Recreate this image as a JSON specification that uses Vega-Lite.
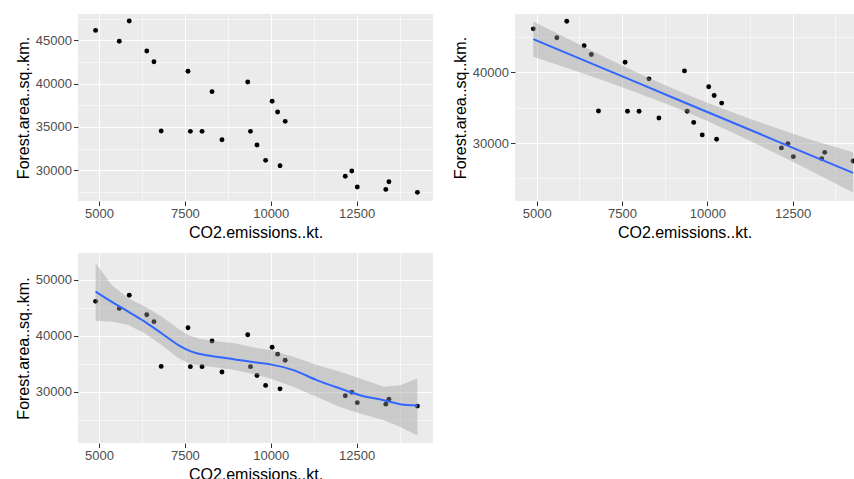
{
  "$schema": "https://vega.github.io/schema/vega-lite/v6.json",
  "background": "white",
  "padding": {"left": 15, "top": 12, "right": 0, "bottom": 0},
  "config": {
    "view": {"fill": "#EBEBEB", "stroke": null},
    "axis": {
      "domain": false,
      "tickColor": "#333333",
      "tickSize": 4.5,
      "tickWidth": 1,
      "labelColor": "#4D4D4D",
      "labelFont": "Liberation Sans",
      "labelFontSize": 13,
      "titleFont": "Liberation Sans",
      "titleFontSize": 16,
      "titleFontWeight": "normal",
      "titleColor": "#000000",
      "gridColor": "#FFFFFF",
      "labelOverlap": false,
      "labelPadding": 2,
      "titlePadding": 4
    }
  },
  "datasets": {
    "pts": [
      {"x": 4900, "y": 46150}, {"x": 5590, "y": 44890}, {"x": 5880, "y": 47230},
      {"x": 6390, "y": 43770}, {"x": 6600, "y": 42530}, {"x": 6810, "y": 34540},
      {"x": 7590, "y": 41430}, {"x": 7660, "y": 34500}, {"x": 8000, "y": 34500},
      {"x": 8290, "y": 39080}, {"x": 8580, "y": 33530}, {"x": 9330, "y": 40200},
      {"x": 9410, "y": 34500}, {"x": 9600, "y": 32920}, {"x": 9850, "y": 31150},
      {"x": 10040, "y": 37970}, {"x": 10200, "y": 36730}, {"x": 10420, "y": 35650},
      {"x": 10270, "y": 30530}, {"x": 12170, "y": 29310}, {"x": 12360, "y": 29920},
      {"x": 12520, "y": 28070}, {"x": 13350, "y": 27800}, {"x": 13440, "y": 28680},
      {"x": 14270, "y": 27460}
    ],
    "lin": [
      {"x": 4900, "fit": 44690, "lo": 42200, "hi": 47180},
      {"x": 6000, "fit": 42470, "lo": 40430, "hi": 44520},
      {"x": 7000, "fit": 40450, "lo": 38760, "hi": 42140},
      {"x": 8000, "fit": 38430, "lo": 37020, "hi": 39840},
      {"x": 9000, "fit": 36410, "lo": 35150, "hi": 37670},
      {"x": 10000, "fit": 34390, "lo": 33100, "hi": 35680},
      {"x": 11000, "fit": 32370, "lo": 30890, "hi": 33860},
      {"x": 12000, "fit": 30350, "lo": 28560, "hi": 32150},
      {"x": 13000, "fit": 28330, "lo": 26160, "hi": 30500},
      {"x": 14270, "fit": 25770, "lo": 23000, "hi": 28700}
    ],
    "loess": [
      {"x": 4900, "fit": 47900, "lo": 42700, "hi": 53000},
      {"x": 5360, "fit": 46120, "lo": 42540, "hi": 49110},
      {"x": 5850, "fit": 44330, "lo": 41940, "hi": 46720},
      {"x": 6330, "fit": 42540, "lo": 40450, "hi": 45230},
      {"x": 6820, "fit": 40450, "lo": 38360, "hi": 43440},
      {"x": 7300, "fit": 38400, "lo": 36100, "hi": 41300},
      {"x": 7590, "fit": 37450, "lo": 35150, "hi": 40150},
      {"x": 7900, "fit": 36800, "lo": 34750, "hi": 39500},
      {"x": 8270, "fit": 36390, "lo": 34480, "hi": 39140},
      {"x": 8950, "fit": 35790, "lo": 33880, "hi": 38660},
      {"x": 9630, "fit": 35190, "lo": 32980, "hi": 37760},
      {"x": 9980, "fit": 34900, "lo": 32390, "hi": 37460},
      {"x": 10660, "fit": 33880, "lo": 30890, "hi": 36270},
      {"x": 11340, "fit": 32090, "lo": 29100, "hi": 34780},
      {"x": 12020, "fit": 30590, "lo": 27310, "hi": 33580},
      {"x": 12600, "fit": 29400, "lo": 26120, "hi": 32390},
      {"x": 13290, "fit": 28500, "lo": 24920, "hi": 30890},
      {"x": 13770, "fit": 27790, "lo": 23730, "hi": 31190},
      {"x": 14270, "fit": 27550, "lo": 22230, "hi": 32390}
    ]
  },
  "spacing": 12,
  "vconcat": [
    {
      "spacing": 19,
      "hconcat": [
        {
          "width": 355,
          "height": 187,
          "data": {"name": "pts"},
          "mark": {"type": "circle", "size": 24, "opacity": 1, "color": "#000000"},
          "encoding": {
            "x": {
              "field": "x", "type": "quantitative",
              "scale": {"domain": [4388, 14724], "nice": false, "zero": false},
              "axis": {
                "title": "CO2.emissions..kt.",
                "values": [5000, 6250, 7500, 8750, 10000, 11250, 12500, 13750],
                "labelExpr": "datum.value % 2500 == 0 ? format(datum.value, 'd') : ''",
                "gridWidth": {"condition": {"test": "datum.value % 2500 == 0", "value": 1.1}, "value": 0.55},
                "tickOpacity": {"condition": {"test": "datum.value % 2500 == 0", "value": 1}, "value": 0}
              }
            },
            "y": {
              "field": "y", "type": "quantitative",
              "scale": {"domain": [26460, 48040], "nice": false, "zero": false},
              "axis": {
                "title": "Forest.area..sq..km.",
                "values": [27500, 30000, 32500, 35000, 37500, 40000, 42500, 45000, 47500],
                "labelExpr": "datum.value % 5000 == 0 ? format(datum.value, 'd') : ''",
                "gridWidth": {"condition": {"test": "datum.value % 5000 == 0", "value": 1.1}, "value": 0.55},
                "tickOpacity": {"condition": {"test": "datum.value % 5000 == 0", "value": 1}, "value": 0}
              }
            }
          }
        },
        {
          "width": 339,
          "height": 187,
          "encoding": {
            "x": {
              "field": "x", "type": "quantitative",
              "scale": {"domain": [4364, 14297], "nice": false, "zero": false},
              "axis": {
                "title": "CO2.emissions..kt.",
                "values": [5000, 6250, 7500, 8750, 10000, 11250, 12500, 13750],
                "labelExpr": "datum.value % 2500 == 0 ? format(datum.value, 'd') : ''",
                "gridWidth": {"condition": {"test": "datum.value % 2500 == 0", "value": 1.1}, "value": 0.55},
                "tickOpacity": {"condition": {"test": "datum.value % 2500 == 0", "value": 1}, "value": 0}
              }
            }
          },
          "layer": [
            {
              "data": {"name": "pts"},
              "mark": {"type": "circle", "size": 24, "opacity": 1, "color": "#000000", "clip": true},
              "encoding": {
                "y": {
                  "field": "y", "type": "quantitative",
                  "scale": {"domain": [21800, 48250], "nice": false, "zero": false},
                  "axis": {
                    "title": "Forest.area..sq..km.",
                    "values": [25000, 30000, 35000, 40000, 45000],
                    "labelExpr": "datum.value % 10000 == 0 ? format(datum.value, 'd') : ''",
                    "gridWidth": {"condition": {"test": "datum.value % 10000 == 0", "value": 1.1}, "value": 0.55},
                    "tickOpacity": {"condition": {"test": "datum.value % 10000 == 0", "value": 1}, "value": 0}
                  }
                }
              }
            },
            {
              "data": {"name": "lin"},
              "mark": {"type": "area", "color": "#999999", "opacity": 0.4, "clip": true},
              "encoding": {
                "y": {
                  "field": "lo", "type": "quantitative",
                  "scale": {"domain": [21800, 48250], "nice": false, "zero": false},
                  "axis": {
                    "title": "Forest.area..sq..km.",
                    "values": [25000, 30000, 35000, 40000, 45000],
                    "labelExpr": "datum.value % 10000 == 0 ? format(datum.value, 'd') : ''",
                    "gridWidth": {"condition": {"test": "datum.value % 10000 == 0", "value": 1.1}, "value": 0.55},
                    "tickOpacity": {"condition": {"test": "datum.value % 10000 == 0", "value": 1}, "value": 0}
                  }
                },
                "y2": {"field": "hi"}
              }
            },
            {
              "data": {"name": "lin"},
              "mark": {"type": "line", "color": "#3366FF", "strokeWidth": 2, "clip": true},
              "encoding": {
                "y": {
                  "field": "fit", "type": "quantitative",
                  "scale": {"domain": [21800, 48250], "nice": false, "zero": false},
                  "axis": {
                    "title": "Forest.area..sq..km.",
                    "values": [25000, 30000, 35000, 40000, 45000],
                    "labelExpr": "datum.value % 10000 == 0 ? format(datum.value, 'd') : ''",
                    "gridWidth": {"condition": {"test": "datum.value % 10000 == 0", "value": 1.1}, "value": 0.55},
                    "tickOpacity": {"condition": {"test": "datum.value % 10000 == 0", "value": 1}, "value": 0}
                  }
                }
              }
            }
          ]
        }
      ]
    },
    {
      "width": 355,
      "height": 190,
      "encoding": {
        "x": {
          "field": "x", "type": "quantitative",
          "scale": {"domain": [4388, 14724], "nice": false, "zero": false},
          "axis": {
            "title": "CO2.emissions..kt.",
            "values": [5000, 6250, 7500, 8750, 10000, 11250, 12500, 13750],
            "labelExpr": "datum.value % 2500 == 0 ? format(datum.value, 'd') : ''",
            "gridWidth": {"condition": {"test": "datum.value % 2500 == 0", "value": 1.1}, "value": 0.55},
            "tickOpacity": {"condition": {"test": "datum.value % 2500 == 0", "value": 1}, "value": 0}
          }
        }
      },
      "layer": [
        {
          "data": {"name": "pts"},
          "mark": {"type": "circle", "size": 24, "opacity": 1, "color": "#000000"},
          "encoding": {
            "y": {
              "field": "y", "type": "quantitative",
              "scale": {"domain": [20870, 54780], "nice": false, "zero": false},
              "axis": {
                "title": "Forest.area..sq..km.",
                "values": [25000, 30000, 35000, 40000, 45000, 50000],
                "labelExpr": "datum.value % 10000 == 0 ? format(datum.value, 'd') : ''",
                "gridWidth": {"condition": {"test": "datum.value % 10000 == 0", "value": 1.1}, "value": 0.55},
                "tickOpacity": {"condition": {"test": "datum.value % 10000 == 0", "value": 1}, "value": 0}
              }
            }
          }
        },
        {
          "data": {"name": "loess"},
          "mark": {"type": "area", "color": "#999999", "opacity": 0.4},
          "encoding": {
            "y": {
              "field": "lo", "type": "quantitative",
              "scale": {"domain": [20870, 54780], "nice": false, "zero": false},
              "axis": {
                "title": "Forest.area..sq..km.",
                "values": [25000, 30000, 35000, 40000, 45000, 50000],
                "labelExpr": "datum.value % 10000 == 0 ? format(datum.value, 'd') : ''",
                "gridWidth": {"condition": {"test": "datum.value % 10000 == 0", "value": 1.1}, "value": 0.55},
                "tickOpacity": {"condition": {"test": "datum.value % 10000 == 0", "value": 1}, "value": 0}
              }
            },
            "y2": {"field": "hi"}
          }
        },
        {
          "data": {"name": "loess"},
          "mark": {"type": "line", "color": "#3366FF", "strokeWidth": 2, "interpolate": "monotone"},
          "encoding": {
            "y": {
              "field": "fit", "type": "quantitative",
              "scale": {"domain": [20870, 54780], "nice": false, "zero": false},
              "axis": {
                "title": "Forest.area..sq..km.",
                "values": [25000, 30000, 35000, 40000, 45000, 50000],
                "labelExpr": "datum.value % 10000 == 0 ? format(datum.value, 'd') : ''",
                "gridWidth": {"condition": {"test": "datum.value % 10000 == 0", "value": 1.1}, "value": 0.55},
                "tickOpacity": {"condition": {"test": "datum.value % 10000 == 0", "value": 1}, "value": 0}
              }
            }
          }
        }
      ]
    }
  ]
}
